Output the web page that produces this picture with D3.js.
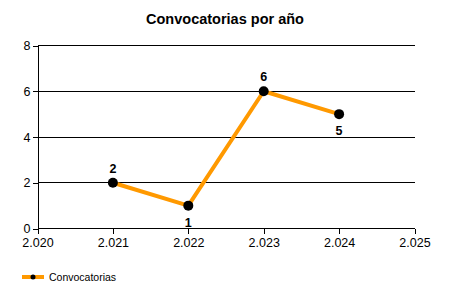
<!DOCTYPE html>
<html><head><meta charset="utf-8">
<script src="https://cdn.jsdelivr.net/npm/d3@7"></script>
<style>body{margin:0;background:#fff;}svg{display:block;font-family:"Liberation Sans",Arial,sans-serif;}</style>
</head><body>
<script>
const years = [2021, 2022, 2023, 2024];
const values = [2, 1, 6, 5];
const labelPos = ["above", "below", "above", "below"];
const xTicks = [2020, 2021, 2022, 2023, 2024, 2025];
const xTickLabels = ["2.020", "2.021", "2.022", "2.023", "2.024", "2.025"];
const yTicks = [0, 2, 4, 6, 8];
const seriesName = "Convocatorias";
const title = "Convocatorias por año";

const W = 450, H = 300;
const svg = d3.select("body").append("svg").attr("width", W).attr("height", H);
svg.append("rect").attr("width", W).attr("height", H).attr("fill", "#fff");

const x = d3.scaleLinear().domain([2020, 2025]).range([37.5, 414.5]);
const y = d3.scaleLinear().domain([0, 8]).range([228.5, 45.5]);

svg.append("text").attr("x", 225).attr("y", 24).attr("text-anchor", "middle")
  .attr("font-size", "14.5px").attr("font-weight", "bold").attr("fill", "#000").text(title);

// gridlines
svg.append("g").selectAll("line").data(yTicks.filter(d => d > 0)).join("line")
  .attr("x1", x(2020)).attr("x2", 415).attr("y1", d => y(d)).attr("y2", d => y(d))
  .attr("stroke", "#000").attr("stroke-width", 1).attr("shape-rendering", "crispEdges");

const yAxis = d3.axisLeft(y).tickValues(yTicks).tickSize(5).tickPadding(2).tickFormat(d3.format("d"));
const gy = svg.append("g").attr("transform", `translate(${x(2020)},0)`).call(yAxis);
gy.select(".domain").attr("stroke", "#000").attr("shape-rendering", "crispEdges");
gy.selectAll(".tick line").attr("stroke", "#000").attr("shape-rendering", "crispEdges");
gy.selectAll("text").attr("font-size", "12.5px").attr("font-family", "Liberation Sans, Arial, sans-serif").attr("fill", "#000");

const xAxis = d3.axisBottom(x).tickValues(xTicks).tickSize(5).tickPadding(5)
  .tickFormat((d, i) => xTickLabels[i]);
const gx = svg.append("g").attr("transform", `translate(0,${y(0)})`).call(xAxis);
gx.select(".domain").attr("d", `M${x(2020)},0H415`).attr("stroke", "#000").attr("shape-rendering", "crispEdges");
gx.selectAll(".tick line").attr("stroke", "#000").attr("shape-rendering", "crispEdges");
gx.selectAll("text").attr("font-size", "12.5px").attr("font-family", "Liberation Sans, Arial, sans-serif").attr("fill", "#000");

const pts = years.map((yr, i) => ({yr, v: values[i], pos: labelPos[i]}));
svg.append("path").datum(pts)
  .attr("d", d3.line().x(d => x(d.yr)).y(d => y(d.v)))
  .attr("fill", "none").attr("stroke", "#FF9900").attr("stroke-width", 4).attr("stroke-linejoin", "round");
svg.append("g").selectAll("circle").data(pts).join("circle")
  .attr("cx", d => x(d.yr)).attr("cy", d => y(d.v)).attr("r", 5).attr("fill", "#000");
svg.append("g").selectAll("text").data(pts).join("text")
  .attr("x", d => x(d.yr)).attr("y", d => y(d.v) + (d.pos === "above" ? -10 : 21))
  .attr("text-anchor", "middle").attr("font-size", "12.5px").attr("font-weight", "bold").attr("fill", "#000")
  .text(d => d.v);

// legend
const lg = svg.append("g");
lg.append("line").attr("x1", 22).attr("x2", 44).attr("y1", 277).attr("y2", 277)
  .attr("stroke", "#FF9900").attr("stroke-width", 4);
lg.append("circle").attr("cx", 33).attr("cy", 277).attr("r", 2.5).attr("fill", "#000");
lg.append("text").attr("x", 49).attr("y", 281).attr("font-size", "10.5px").attr("fill", "#000").text(seriesName);
</script>
</body></html>
